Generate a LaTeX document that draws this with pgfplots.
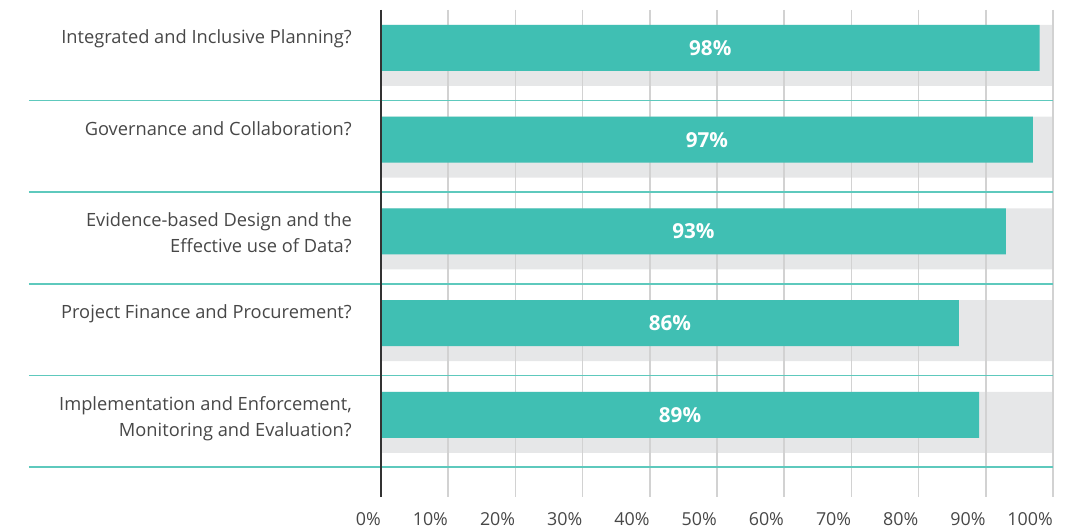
\documentclass[border=0pt]{standalone}
\usepackage{pgfplots}
\pgfplotsset{compat=1.18}
\usepackage{fontspec}
\setmainfont{Open Sans}
\definecolor{barteal}{HTML}{40BFB3}
\definecolor{band}{HTML}{E6E7E8}
\definecolor{sep}{HTML}{5EC9BD}
\definecolor{gridc}{HTML}{D2D2D2}
\definecolor{txt}{HTML}{474747}
\begin{document}
\begin{tikzpicture}
\begin{axis}[
  set layers,
  scale only axis, width=504pt, height=365.25pt,
  xmin=0, xmax=100, ymin=10, ymax=497, y dir=reverse,
  axis line style={draw=none},
  major tick length=0pt,
  xtick={0,10,...,100},
  xticklabel={\pgfmathprintnumber[assume math mode=true]{\tick}\%},
  xticklabel style={anchor=north east, inner sep=0pt, yshift=-11.5pt, font=\fontsize{13.4pt}{15pt}\selectfont, text=txt},
  ytick={25,116.7,208.4,300.1,391.8},
  yticklabels={{Integrated and Inclusive Planning?},{Governance and Collaboration?},{Evidence-based Design and the\\Effective use of Data?},{Project Finance and Procurement?},{Implementation and Enforcement,\\Monitoring and Evaluation?}},
  yticklabel style={anchor=north east, align=right, inner sep=0pt, xshift=-21.75pt, yshift=-3.3pt, font=\fontsize{13.7pt}{19.5pt}\selectfont, text=txt},
  xmajorgrids, grid style={gridc, line width=1.1pt},
  clip=false,
]
\addplot[xbar, bar width=61, bar shift=0pt, fill=band, draw=none, on layer=axis background]
  coordinates {(100,55.5) (100,147.2) (100,238.9) (100,330.6) (100,422.3)};
\addplot[xbar, bar width=46, bar shift=0pt, fill=barteal, draw=none]
  coordinates {(98,48) (97,139.7) (93,231.4) (86,323.1) (89,414.8)};
\addplot[only marks, mark=none, nodes near coords, point meta=explicit symbolic,
  nodes near coords style={anchor=center, inner sep=0pt, font=\fontsize{15.5pt}{17pt}\selectfont\bfseries, text=white}]
  coordinates {(49,48) [98\%] (48.5,139.7) [97\%] (46.5,231.4) [93\%] (43,323.1) [86\%] (44.5,414.8) [89\%]};
\begin{pgfonlayer}{axis foreground}
\draw[sep, line width=1.2pt] (axis cs:-52.4,100.5) -- (axis cs:100,100.5);
\draw[sep, line width=1.2pt] (axis cs:-52.4,192.2) -- (axis cs:100,192.2);
\draw[sep, line width=1.2pt] (axis cs:-52.4,283.9) -- (axis cs:100,283.9);
\draw[sep, line width=1.2pt] (axis cs:-52.4,375.6) -- (axis cs:100,375.6);
\draw[sep, line width=1.2pt] (axis cs:-52.4,467.3) -- (axis cs:100,467.3);
\draw[line width=1.8pt, color=black!80] (axis cs:0,10) -- (axis cs:0,497);
\end{pgfonlayer}
\path (axis cs:-56.70,0) rectangle (axis cs:105.06,530);
\end{axis}
\end{tikzpicture}
\end{document}
